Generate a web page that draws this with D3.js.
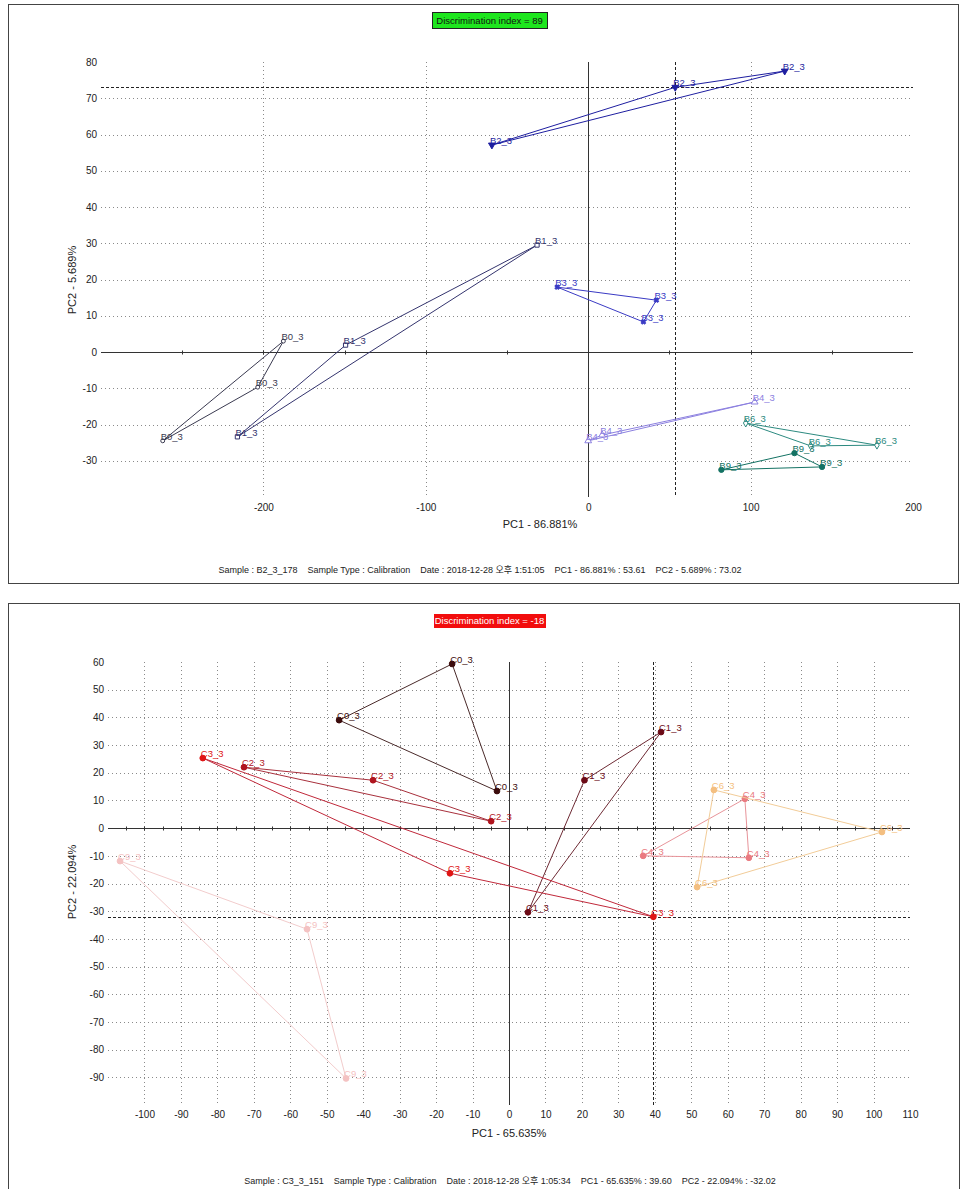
<!DOCTYPE html>
<html><head><meta charset="utf-8">
<script src="https://cdn.jsdelivr.net/npm/d3@7"></script>
<style>
body{margin:0;background:#fff;}
svg{display:block;font-family:"Liberation Sans","Noto Sans CJK KR",sans-serif;}
</style></head>
<body><svg id="c" width="960" height="1189"></svg>
<script>
// ---- Top panel data (PC1, PC2) ----
const topTitle = "Discrimination index = 89";
const topXTicks = [-200, -100, 0, 100, 200];
const topYTicks = [80, 70, 60, 50, 40, 30, 20, 10, 0, -10, -20, -30];
const B0 = [[-187.7, 3.0], [-203.5, -9.7], [-262, -24.5]];
const B1 = [[-31.5, 29.5], [-149.4, 1.9], [-216, -23.4]];
const B2 = [[-59.3, 57.1], [53.61, 73.02], [121, 77.5]];
const B3 = [[-19.1, 17.9], [42, 14.3], [34, 8.3]];
const B4 = [[102.5, -13.8], [0, -24.5], [8.6, -22.9]];
const B6 = [[97, -19.6], [177.8, -25.7], [137, -25.9]];
const B9 = [[82, -32.5], [127, -27.9], [144, -31.7]];
const topCursor = [53.61, 73.02];
const topFooter = "Sample : B2_3_178    Sample Type : Calibration    Date : 2018-12-28 오후 1:51:05    PC1 - 86.881% : 53.61    PC2 - 5.689% : 73.02";

// ---- Bottom panel data ----
const botTitle = "Discrimination index = -18";
const botXTicks = [-100, -90, -80, -70, -60, -50, -40, -30, -20, -10, 0, 10, 20, 30, 40, 50, 60, 70, 80, 90, 100, 110];
const botYTicks = [60, 50, 40, 30, 20, 10, 0, -10, -20, -30, -40, -50, -60, -70, -80, -90];
const C0 = [[-15.6, 59.3], [-46.6, 39.0], [-3.3, 13.4]];
const C1 = [[41.7, 34.7], [20.7, 17.3], [5.2, -30.4]];
const C2 = [[-72.7, 22.0], [-37.3, 17.3], [-4.9, 2.5]];
const C3 = [[-84, 25.3], [-16.2, -16.3], [39.6, -32.02]];
const C4 = [[64.7, 10.6], [65.8, -10.7], [36.8, -10.0]];
const C6 = [[56.2, 13.8], [102.3, -1.4], [51.6, -21.3]];
const C9 = [[-106.7, -11.9], [-55.4, -36.5], [-44.7, -90.4]];
const botCursor = [39.60, -32.02];
const botFooter = "Sample : C3_3_151    Sample Type : Calibration    Date : 2018-12-28 오후 1:05:34    PC1 - 65.635% : 39.60    PC2 - 22.094% : -32.02";

const svg = d3.select("#c");

function drawPanel(o) {
  const g = svg.append("g");
  // outer frame
  g.append("rect").attr("x", o.frame[0] + 0.5).attr("y", o.frame[1] + 0.5)
    .attr("width", o.frame[2] - o.frame[0]).attr("height", o.frame[3] - o.frame[1])
    .attr("fill", "none").attr("stroke", "#444").attr("stroke-width", 1);
  // title badge
  const tb = o.badge;
  g.append("rect").attr("x", tb.x + 0.5).attr("y", tb.y + 0.5).attr("width", tb.w).attr("height", tb.h)
    .attr("fill", tb.fill).attr("stroke", tb.stroke);
  g.append("text").attr("x", tb.x + tb.w / 2).attr("y", tb.y + tb.h / 2 + 3.5)
    .attr("text-anchor", "middle").attr("font-size", 9.5).attr("fill", tb.color).text(o.title);

  const x = d3.scaleLinear().domain(o.xd).range(o.xr);
  const y = d3.scaleLinear().domain(o.yd).range(o.yr);
  const [x0, x1] = o.xr, [y1, y0] = o.yr;

  // grid
  const gg = g.append("g").attr("stroke", "#8a8a8a").attr("stroke-dasharray", "1,3").attr("stroke-width", 1);
  o.xGrid.forEach(v => gg.append("line").attr("x1", Math.round(x(v)) + 0.5).attr("x2", Math.round(x(v)) + 0.5).attr("y1", y0).attr("y2", y1));
  o.yGrid.forEach(v => gg.append("line").attr("y1", Math.round(y(v)) + 0.5).attr("y2", Math.round(y(v)) + 0.5).attr("x1", x0).attr("x2", x1));

  // zero axes
  const ax = g.append("g").attr("stroke", "#333").attr("stroke-width", 1);
  const zx = Math.round(x(0)) + 0.5, zy = Math.round(y(0)) + 0.5;
  ax.append("line").attr("x1", zx).attr("x2", zx).attr("y1", y0).attr("y2", y1);
  ax.append("line").attr("x1", x0).attr("x2", x1).attr("y1", zy).attr("y2", zy);
  d3.range(o.xd[0], o.xd[1] + 0.001, o.xMinor).forEach(v => {
    if (Math.abs(v) < 1e-9) return;
    const px = Math.round(x(v)) + 0.5;
    if (px <= x0 + 1 || px >= x1 - 1) return;
    ax.append("line").attr("x1", px).attr("x2", px).attr("y1", zy - 2).attr("y2", zy + 2);
  });
  d3.range(o.yd[0], o.yd[1] + 0.001, o.yMinor).forEach(v => {
    if (Math.abs(v) < 1e-9) return;
    const py = Math.round(y(v)) + 0.5;
    if (py >= y0 - 1 || py <= y1 + 1) return;
    ax.append("line").attr("y1", py).attr("y2", py).attr("x1", zx - 2).attr("x2", zx + 2);
  });

  // cursor lines
  const cx = Math.round(x(o.cursor[0])) + 0.5, cy = Math.round(y(o.cursor[1])) + 0.5;
  const cg = g.append("g").attr("stroke", "#222").attr("stroke-dasharray", "3,2").attr("stroke-width", 1);
  cg.append("line").attr("x1", cx).attr("x2", cx).attr("y1", y0).attr("y2", y1);
  cg.append("line").attr("x1", x0).attr("x2", x1).attr("y1", cy).attr("y2", cy);

  // plot frame
  g.append("rect").attr("x", x0 + 0.5).attr("y", y1 + 0.5).attr("width", x1 - x0).attr("height", y0 - y1)
    .attr("fill", "none").attr("stroke", "#666").attr("stroke-width", 1.2);

  // tick labels (hyphen minus as in the reference)
  const fmt = d => String(d);
  const xa = d3.axisBottom(x).tickValues(o.xTicks).tickSize(0).tickPadding(0).tickFormat(fmt);
  const xg = g.append("g").attr("transform", `translate(0,${o.xLabelY})`).call(xa);
  xg.select(".domain").remove();
  xg.selectAll("text").attr("font-size", 10).attr("fill", "#222").attr("font-family", "Liberation Sans, sans-serif");
  const ya = d3.axisLeft(y).tickValues(o.yTicks).tickSize(0).tickPadding(4).tickFormat(fmt);
  const yg = g.append("g").attr("transform", `translate(${x0},0)`).call(ya);
  yg.select(".domain").remove();
  yg.selectAll("text").attr("font-size", 10).attr("fill", "#222").attr("font-family", "Liberation Sans, sans-serif");

  // axis titles
  g.append("text").attr("x", o.xTitle[0]).attr("y", o.xTitle[1]).attr("text-anchor", "middle")
    .attr("font-size", 11).attr("fill", "#222").text(o.xTitleText);
  g.append("text").attr("transform", `translate(${o.yTitle[0]},${o.yTitle[1]}) rotate(-90)`)
    .attr("text-anchor", "middle").attr("font-size", 11).attr("fill", "#222").text(o.yTitleText);

  // footer
  g.append("text").attr("x", o.footer[0]).attr("y", o.footer[1]).attr("text-anchor", "middle")
    .attr("font-size", 9).attr("fill", "#222").attr("xml:space", "preserve").style("white-space", "pre").text(o.footerText);

  // series
  o.series.forEach(s => {
    const sg = g.append("g");
    const pts = s.data.map(d => [x(d[0]), y(d[1])]);
    sg.append("path").attr("d", d3.line()(pts) + "Z").attr("fill", "none")
      .attr("stroke", s.line || s.color).attr("stroke-width", 1);
    const sym = d3.symbol().type(s.shape).size(s.size);
    pts.forEach(p => {
      sg.append("path").attr("d", sym()).attr("transform", `translate(${p[0]},${p[1]}) rotate(${s.rot || 0})`)
        .attr("fill", s.filled ? s.color : "#fff").attr("stroke", s.color).attr("stroke-width", 1);
    });
    s.data.forEach((d, i) => {
      sg.append("text").attr("x", pts[i][0] - 2).attr("y", pts[i][1] - 1)
        .attr("font-size", 9.5).attr("fill", s.color).text(s.name);
    });
  });
}

drawPanel({
  frame: [8, 4, 958, 583],
  badge: {x: 432, y: 12, w: 115, h: 16, fill: "#1ee61e", stroke: "#222", color: "#111"},
  title: topTitle,
  xd: [-300, 200], xr: [101, 913],
  yd: [-40, 80], yr: [497, 62],
  xTicks: topXTicks, yTicks: topYTicks,
  xGrid: [-200, -100, 100], yGrid: [70, 60, 50, 40, 30, 20, 10, -10, -20, -30],
  xMinor: 50, yMinor: 5,
  cursor: topCursor,
  xLabelY: 504,
  xTitle: [540, 528], xTitleText: "PC1 - 86.881%",
  yTitle: [76, 280], yTitleText: "PC2 - 5.689%",
  footer: [480, 573], footerText: topFooter,
  series: [
    {name: "B0_3", data: B0, color: "#3a3a50", shape: d3.symbolCircle, size: 12, filled: false},
    {name: "B1_3", data: B1, color: "#34346e", shape: d3.symbolSquare, size: 18, filled: false},
    {name: "B2_3", data: B2, color: "#1e1ea0", shape: d3.symbolTriangle, size: 20, filled: true, rot: 180},
    {name: "B3_3", data: B3, color: "#3a3ac4", shape: d3.symbolCross, size: 12, filled: true, rot: 45},
    {name: "B4_3", data: B4, color: "#8c80e0", shape: d3.symbolTriangle, size: 20, filled: false},
    {name: "B6_3", data: B6, color: "#2c8a80", shape: d3.symbolDiamond, size: 18, filled: false},
    {name: "B9_3", data: B9, color: "#137263", shape: d3.symbolCircle, size: 22, filled: true}
  ]
});

drawPanel({
  frame: [8, 603, 959, 1200],
  badge: {x: 434, y: 614, w: 111, h: 13, fill: "#f20d0d", stroke: "#f20d0d", color: "#fff"},
  title: botTitle,
  xd: [-110, 110], xr: [108, 910],
  yd: [-100, 60], yr: [1105, 662],
  xTicks: botXTicks, yTicks: botYTicks,
  xGrid: d3.range(-100, 101, 10).filter(v => v !== 0),
  yGrid: d3.range(-90, 51, 10).filter(v => v !== 0),
  xMinor: 5, yMinor: 5,
  cursor: botCursor,
  xLabelY: 1111,
  xTitle: [509, 1137], xTitleText: "PC1 - 65.635%",
  yTitle: [76, 882], yTitleText: "PC2 - 22.094%",
  footer: [510, 1184], footerText: botFooter,
  series: [
    {name: "C0_3", data: C0, color: "#3c0c0c", line: "#4a2a2a", shape: d3.symbolCircle, size: 26, filled: true},
    {name: "C1_3", data: C1, color: "#6c0a16", line: "#6e2a34", shape: d3.symbolCircle, size: 26, filled: true},
    {name: "C2_3", data: C2, color: "#b0141e", line: "#a8303c", shape: d3.symbolCircle, size: 26, filled: true},
    {name: "C3_3", data: C3, color: "#e01414", line: "#c0283a", shape: d3.symbolCircle, size: 26, filled: true},
    {name: "C4_3", data: C4, color: "#ea7a80", line: "#e8949a", shape: d3.symbolCircle, size: 26, filled: true},
    {name: "C6_3", data: C6, color: "#f4bf80", line: "#f2cc98", shape: d3.symbolCircle, size: 26, filled: true},
    {name: "C9_3", data: C9, color: "#f4c2c2", line: "#f2cccc", shape: d3.symbolCircle, size: 26, filled: true}
  ]
});
</script></body></html>
